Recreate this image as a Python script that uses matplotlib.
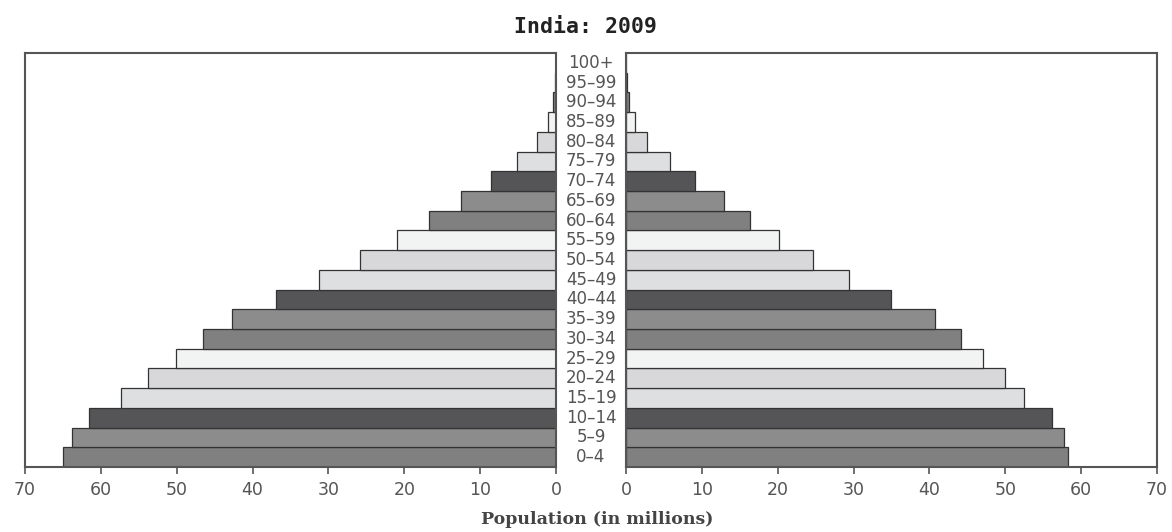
#!/usr/bin/env python3
"""Population pyramid: India 2009 (male left, female right)."""

import matplotlib.pyplot as plt
import matplotlib.transforms as mtransforms
import numpy as np

age_groups = ["0-4", "5-9", "10-14", "15-19", "20-24", "25-29", "30-34", "35-39",
              "40-44", "45-49", "50-54", "55-59", "60-64", "65-69", "70-74", "75-79",
              "80-84", "85-89", "90-94", "95-99", "100+"]
male = [65.0, 63.8, 61.6, 57.4, 53.8, 50.1, 46.5, 42.7, 36.9, 31.2, 25.8,
        20.9, 16.7, 12.5, 8.6, 5.2, 2.5, 1.05, 0.4, 0.1, 0.02]
female = [58.3, 57.7, 56.2, 52.5, 49.9, 47.1, 44.1, 40.8, 34.9, 29.4, 24.6,
          20.2, 16.3, 12.9, 9.1, 5.85, 2.8, 1.2, 0.4, 0.1, 0.02]
x_ticks = [0, 10, 20, 30, 40, 50, 60, 70]

# colour cycle of the rows, from the youngest group upwards
shade_cycle = ["#808080", "#8c8c8c", "#555557", "#dedfe0", "#d8d8da", "#f2f3f3"]
colors = [shade_cycle[i % len(shade_cycle)] for i in range(len(age_groups))]

fig = plt.figure(figsize=(11.72, 5.32), dpi=100)
ax_l = fig.add_axes([25 / 1172, 0.1222, 531 / 1172, 0.7782])
ax_r = fig.add_axes([626 / 1172, 0.1222, 531 / 1172, 0.7782])

y = np.arange(len(age_groups))
for ax, vals in [(ax_l, male), (ax_r, female)]:
    ax.barh(y, vals, height=1.0, color=colors, edgecolor="#333333", linewidth=0.9)
    ax.set_xlim(0, 70)
    ax.set_ylim(-0.5, len(age_groups) - 0.5)
    ax.set_yticks([])
    ax.set_xticks(x_ticks)
    ax.set_xticklabels([str(t) for t in x_ticks], fontsize=12.5, color="#555555")
    ax.tick_params(axis="x", direction="out", length=5, width=1.2, color="#555555", pad=5)
    for sp in ax.spines.values():
        sp.set_color("#555555")
        sp.set_linewidth(1.5)
ax_l.invert_xaxis()

# age group labels in the gap between the two halves
trans = mtransforms.blended_transform_factory(fig.transFigure, ax_r.transData)
for yi, lab in zip(y, age_groups):
    fig.text(591 / 1172, yi, lab.replace("-", "\u2013"), transform=trans,
             ha="center", va="center", fontsize=12, color="#555555")

fig.text(0.5, 1 - 27 / 532, "India: 2009", ha="center", va="center",
         fontsize=15.5, fontweight="bold", family="DejaVu Sans Mono", color="#222222")
fig.text(597 / 1172, 1 - 520 / 532, "Population (in millions)", ha="center", va="center",
         fontsize=12.5, fontweight="bold", family="DejaVu Serif", color="#444444")

fig.savefig("out.png", dpi=100)
